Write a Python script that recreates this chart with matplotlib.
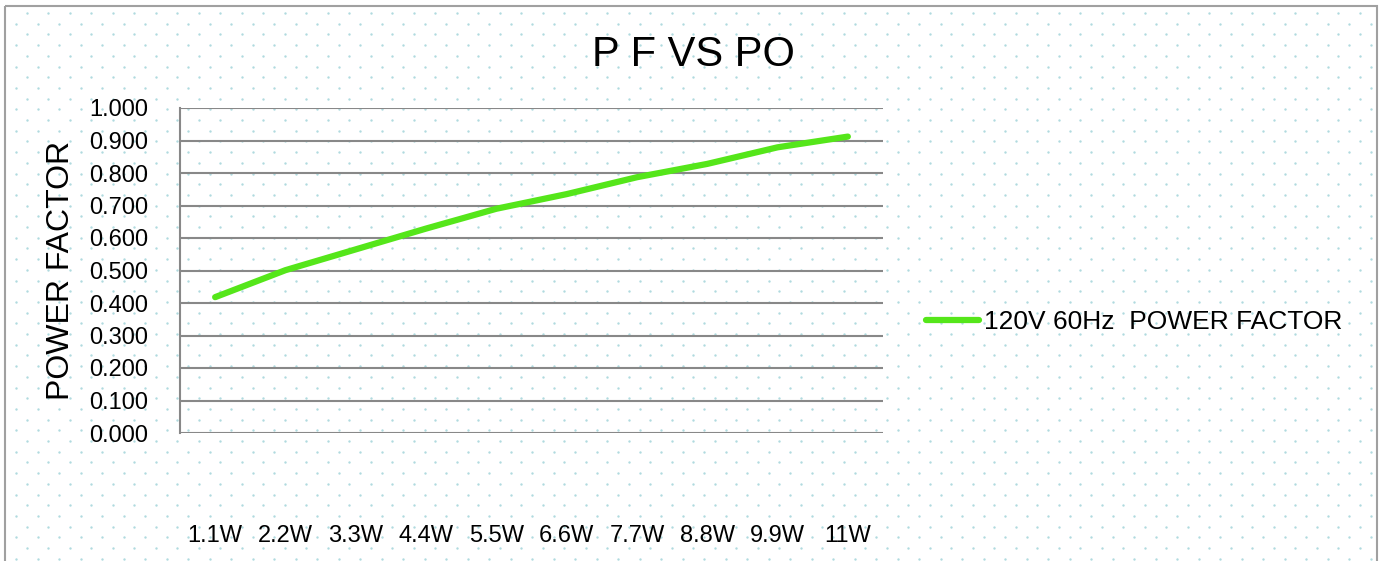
import numpy as np
import matplotlib.pyplot as plt
from matplotlib.patches import Rectangle

plt.rcParams['font.family'] = ['Liberation Sans', 'DejaVu Sans']

# data
categories = ["1.1W", "2.2W", "3.3W", "4.4W", "5.5W", "6.6W", "7.7W", "8.8W", "9.9W", "11W"]
pf_120v = [0.418, 0.501, 0.565, 0.629, 0.690, 0.735, 0.787, 0.828, 0.879, 0.912]
series_name = "120V 60Hz  POWER FACTOR"
yticks = [0.0, 0.1, 0.2, 0.3, 0.4, 0.5, 0.6, 0.7, 0.8, 0.9, 1.0]

W, H = 1381, 561
fig = plt.figure(figsize=(W / 100, H / 100), dpi=100)

# dotted background in pixel coords
bg = fig.add_axes([0, 0, 1, 1], zorder=-1)
bg.set_xlim(0, W)
bg.set_ylim(H, 0)
bg.axis("off")
dx, dy = 21.5, 10.7
xs, ys = [], []
for k, yy in enumerate(np.arange(13, H, dy)):
    off = 0 if k % 2 == 0 else -dx / 2
    for xx in np.arange(27 + off, W, dx):
        xs.append(xx)
        ys.append(yy)
bg.scatter(xs, ys, s=3, color="#b0dadf", linewidths=0)
bg.add_patch(Rectangle((5, 6), 1372, 560, fill=False, edgecolor="#a0a0a0", lw=1.5))

# main axes (pixel box 180..883, 108..433)
ax = fig.add_axes([180 / W, 1 - 433 / H, 703 / W, 325 / H])
ax.set_facecolor("none")
x = np.arange(len(categories))
ax.plot(x, pf_120v, color="#55e61a", lw=4.5, solid_capstyle="round", label=series_name)
ax.set_xlim(-0.5, len(categories) - 0.5)
ax.set_ylim(0, 1.0)
ax.set_yticks(yticks)
ax.set_yticklabels(["%.3f" % v for v in yticks], fontsize=17)
ax.set_xticks(x)
ax.set_xticklabels(categories, fontsize=17)
ax.tick_params(axis="y", length=0, pad=23)
ax.tick_params(axis="x", length=0, pad=66)
ax.grid(axis="y", color="#888888", lw=1.5)
ax.set_axisbelow(True)
for s in ["top", "right", "bottom"]:
    ax.spines[s].set_visible(False)
ax.spines["left"].set_color("#888888")
ax.spines["left"].set_linewidth(1.5)

ax.set_ylabel("POWER FACTOR", fontsize=23)
ax.yaxis.set_label_coords((76 - 180) / 703, 0.5)
fig.text(693 / W, 1 - 55 / H, "P F VS PO", fontsize=30, ha="center", va="center")

fig.legend(loc="center left", bbox_to_anchor=(902 / W, 1 - 322 / H), frameon=False,
           fontsize=19, handlelength=2.0, handletextpad=0.2)

fig.savefig("out.png", dpi=100)
